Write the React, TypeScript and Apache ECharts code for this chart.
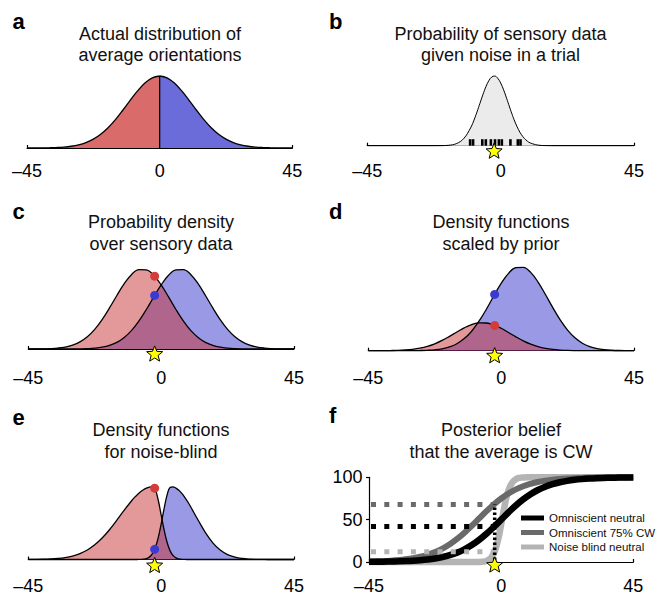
import React, { useEffect, useRef } from "react";
import * as echarts from "echarts";

// ---------- data ----------
const X_COARSE = [-45, -42.5, -40, -37.5, -35, -32.5, -30, -27.5, -25, -22.5, -20, -17.5, -15, -12.5, -10, -7.5, -5, -2.5, 0, 2.5, 5, 7.5, 10, 12.5, 15, 17.5, 20, 22.5, 25, 27.5, 30, 32.5, 35, 37.5, 40, 42.5, 45];
const X_FINE = [-45, -42.5, -40, -37.5, -35, -32.5, -30, -27.5, -25, -22.5, -20, -17.5, -15, -12.5, -10, -9, -8, -7, -6, -5, -4, -3, -2, -1, 0, 1, 2, 3, 4, 5, 6, 7, 8, 9, 10, 12.5, 15, 17.5, 20, 22.5, 25, 27.5, 30, 32.5, 35, 37.5, 40, 42.5, 45];

// a: actual distribution of average orientations (on X_COARSE)
const A_PRIOR = [0.02, 0.06, 0.13, 0.3, 0.63, 1.27, 2.43, 4.39, 7.56, 12.35, 19.15, 28.21, 39.46, 52.43, 66.15, 79.26, 90.19, 97.45, 100, 97.45, 90.19, 79.26, 66.15, 52.43, 39.46, 28.21, 19.15, 12.35, 7.56, 4.39, 2.43, 1.27, 0.63, 0.3, 0.13, 0.06, 0.02];

// b: probability of sensory data given noise (on X_FINE)
const B_NOISE = [0, 0, 0, 0, 0, 0, 0, 0, 0, 0.01, 0.1, 0.62, 2.86, 10.0, 26.7, 36.7, 48.2, 60.7, 73.1, 84.4, 93.2, 98.6, 99.9, 96.9, 90.0, 80.1, 68.2, 55.6, 43.4, 32.5, 23.2, 15.9, 10.5, 6.57, 3.96, 0.92, 0.16, 0.02, 0, 0, 0, 0, 0, 0, 0, 0, 0, 0, 0];
const B_SAMPLES = [-10.3, -9.3, -6.2, -5.0, -3.3, -1.9, -0.6, 0.4, 3.3, 5.8, 6.7];

// c: probability density over sensory data (on X_COARSE)
const C_RED = [0.03, 0.09, 0.22, 0.53, 1.18, 2.48, 4.87, 8.93, 15.3, 24.5, 36.7, 51.3, 66.9, 81.7, 93.2, 99.3, 98.9, 92.1, 80.1, 65.1, 49.4, 35.1, 23.2, 14.4, 8.34, 4.51, 2.28, 1.08, 0.48, 0.2, 0.08, 0.03, 0.01, 0, 0, 0, 0];
const C_BLUE = [0, 0, 0, 0, 0.01, 0.03, 0.08, 0.2, 0.48, 1.08, 2.28, 4.51, 8.34, 14.4, 23.2, 35.1, 49.4, 65.1, 80.1, 92.1, 98.9, 99.3, 93.2, 81.7, 66.9, 51.3, 36.7, 24.5, 15.3, 8.93, 4.87, 2.48, 1.18, 0.53, 0.22, 0.09, 0.03];

// d: density functions scaled by prior (on X_COARSE)
const D_RED = [0.01, 0.03, 0.07, 0.18, 0.39, 0.83, 1.62, 2.98, 5.1, 8.17, 12.23, 17.1, 22.3, 27.23, 31.07, 33.1, 32.97, 30.7, 26.7, 21.7, 16.47, 11.7, 7.73, 4.8, 2.78, 1.5, 0.76, 0.36, 0.16, 0.07, 0.03, 0.01, 0, 0, 0, 0, 0];
const D_BLUE = [0, 0, 0, 0, 0.01, 0.03, 0.08, 0.2, 0.48, 1.08, 2.28, 4.51, 8.34, 14.4, 23.2, 35.1, 49.4, 65.1, 80.1, 92.1, 98.9, 99.3, 93.2, 81.7, 66.9, 51.3, 36.7, 24.5, 15.3, 8.93, 4.87, 2.48, 1.18, 0.53, 0.22, 0.09, 0.03];

// e: density functions for noise-blind (on X_FINE)
const E_RED = [0.06, 0.15, 0.33, 0.69, 1.38, 2.61, 4.7, 8.04, 13.0, 20.1, 29.5, 40.9, 54.1, 67.8, 80.7, 85.3, 89.4, 93.0, 95.9, 98.0, 99.4, 99.98, 96.1, 81.7, 61.3, 40.6, 23.7, 12.2, 5.56, 2.23, 0.79, 0.25, 0.07, 0.02, 0, 0, 0, 0, 0, 0, 0, 0, 0, 0, 0, 0, 0, 0, 0];
const E_BLUE = [0, 0, 0, 0, 0, 0, 0, 0, 0, 0, 0, 0, 0, 0, 0, 0.01, 0.03, 0.12, 0.4, 1.22, 3.26, 7.73, 16.2, 29.8, 48.6, 69.8, 88.5, 99.0, 99.7, 98.1, 95.1, 90.8, 85.5, 79.3, 72.4, 54.2, 36.9, 22.9, 13.0, 6.71, 3.16, 1.35, 0.53, 0.19, 0.06, 0.02, 0, 0, 0];

// f: posterior belief that the average is CW (%)
const F_OMNI = [0.19, 0.27, 0.38, 0.54, 0.77, 1.08, 1.53, 2.15, 3.01, 4.21, 5.85, 8.09, 11.07, 14.98, 19.96, 26.08, 33.3, 41.4, 50, 58.6, 66.7, 73.9, 80.04, 85.02, 88.93, 91.91, 94.15, 95.79, 96.99, 97.85, 98.47, 98.92, 99.23, 99.46, 99.62, 99.73, 99.81];
const F_OMNI75 = [0.58, 0.81, 1.15, 1.61, 2.27, 3.18, 4.44, 6.17, 8.52, 11.65, 15.72, 20.88, 27.2, 34.58, 42.8, 51.4, 59.97, 67.96, 75, 80.9, 85.7, 89.5, 92.3, 94.5, 96.0, 97.15, 97.97, 98.56, 98.98, 99.28, 99.49, 99.64, 99.75, 99.82, 99.87, 99.91, 99.94];
const F_BLIND = [0, 0, 0, 0, 0, 0, 0, 0, 0, 0, 0, 0, 0, 0, 0, 0.01, 0.03, 0.13, 0.42, 1.23, 3.17, 7.18, 14.4, 26.7, 44.2, 63.2, 78.9, 89.0, 94.7, 97.8, 99.2, 99.7, 99.9, 99.97, 100, 100, 100, 100, 100, 100, 100, 100, 100, 100, 100, 100, 100, 100, 100];
const F_LEVELS = [68, 42, 12]; // omniscient 75% CW, omniscient neutral, noise blind neutral at the star
const F_NAMES = ["Omniscient neutral", "Omniscient 75% CW", "Noise blind neutral"];

// the trial's average orientation (star) and the density values read there (panels c, d, e)
const STAR_X = -2.2;
const DOT_RED = [91, 30, 98];
const DOT_BLUE = [67, 67, 14];

const X_LABELS = [-45, 0, 45];
const X_END_TICKS = [-45, 45];
const TITLES = [
  "Actual distribution of\naverage orientations",
  "Probability of sensory data\ngiven noise in a trial",
  "Probability density\nover sensory data",
  "Density functions\nscaled by prior",
  "Density functions\nfor noise-blind",
  "Posterior belief\nthat the average is CW",
];
const LETTERS = ["a", "b", "c", "d", "e", "f"];

// ---------- styling / layout ----------
const FONT = "'Liberation Sans', Arial, Helvetica, sans-serif";
const GRIDS = [
  { left: 27, top: 76, width: 265.3, height: 72 },
  { left: 367.3, top: 76, width: 266.7, height: 69.7 },
  { left: 28.3, top: 269, width: 265.7, height: 80 },
  { left: 368.3, top: 266.7, width: 265.7, height: 84 },
  { left: 28.3, top: 486.7, width: 265.7, height: 75.6 },
  { left: 369, top: 477.3, width: 264.3, height: 85 },
];
const LABEL_MARGINS = [14, 16, 19.5, 18, 17.5, 15];
const TITLE_POS = [
  { left: 160, top: 23 },
  { left: 500.5, top: 23 },
  { left: 161, top: 211.5 },
  { left: 501, top: 211.5 },
  { left: 161, top: 419.5 },
  { left: 501, top: 419.5 },
];
const LETTER_POS = [
  [12.5, 21.6],
  [329, 21.6],
  [12.5, 211.6],
  [329, 211.6],
  [12.5, 417.3],
  [329, 415.6],
];
const STAR_OFFSETS = [0, 5, 4.5, 4.5, 5.5, 2.5];
const STAR_PATH =
  "path://M50 0 L62.9 32.2 L97.6 34.5 L70.9 56.8 L79.4 90.5 L50 72 L20.6 90.5 L29.1 56.8 L2.4 34.5 L37.1 32.2 Z";

const RED_A = "#d96b6b";
const BLUE_A = "#6b6bd9";
const RED_T = "rgba(199,51,51,0.5)";
const BLUE_T = "rgba(51,51,204,0.5)";

const zip = (xs: number[], ys: number[]) => xs.map((x, i) => [x, ys[i]]);
const fmt = (v: number) => (v < 0 ? "\u2013" + Math.abs(v) : String(v));

function areaSeries(gi: number, data: number[][], fill: string, z = 2) {
  return {
    type: "line",
    xAxisIndex: gi,
    yAxisIndex: gi,
    data,
    smooth: 0.4,
    symbol: "none",
    clip: false,
    silent: true,
    z,
    lineStyle: { width: 0, opacity: 0 },
    areaStyle: { color: fill, opacity: 1 },
  };
}
function lineSeries(gi: number, data: number[][], color = "#000", width = 1.3, z = 4, extra: any = {}) {
  return {
    type: "line",
    xAxisIndex: gi,
    yAxisIndex: gi,
    data,
    smooth: 0.4,
    symbol: "none",
    clip: false,
    silent: true,
    z,
    lineStyle: { color, width },
    itemStyle: { color },
    ...extra,
  };
}
function dotSeries(gi: number, y: number, color: string) {
  return {
    type: "scatter",
    xAxisIndex: gi,
    yAxisIndex: gi,
    data: [[STAR_X, y]],
    symbolSize: 9,
    clip: false,
    silent: true,
    z: 6,
    itemStyle: { color, opacity: 1 },
  };
}
function starSeries(gi: number) {
  return {
    type: "scatter",
    xAxisIndex: gi,
    yAxisIndex: gi,
    data: [[STAR_X, 0]],
    symbol: STAR_PATH,
    symbolSize: 16,
    symbolKeepAspect: true,
    symbolOffset: [0, STAR_OFFSETS[gi]],
    clip: false,
    silent: true,
    z: 8,
    itemStyle: { color: "#ffff00", borderColor: "#000", borderWidth: 1, opacity: 1 },
  };
}
function dottedSeries(data: number[][], color: string, width: number, dash: number[], z = 5) {
  return {
    type: "line",
    xAxisIndex: 5,
    yAxisIndex: 5,
    data,
    smooth: false,
    symbol: "none",
    clip: false,
    silent: true,
    z,
    lineStyle: { color, width, type: dash, dashOffset: -2, cap: "butt" },
  };
}

function buildOption() {
  const xAxes = GRIDS.map((_, gi) => ({
    type: "value",
    gridIndex: gi,
    min: -45,
    max: 45,
    interval: 45,
    axisLine: { show: true, onZero: false, lineStyle: { color: "#000", width: 1.2 } },
    axisTick: { show: true, inside: true, length: 3, customValues: X_END_TICKS, lineStyle: { color: "#000", width: 1.2 } },
    axisLabel: {
      show: true,
      margin: LABEL_MARGINS[gi],
      fontSize: 18,
      color: "#000",
      fontFamily: FONT,
      formatter: fmt,
      customValues: X_LABELS,
    },
    splitLine: { show: false },
  }));
  const yAxes: any[] = GRIDS.map((_, gi) => ({ type: "value", gridIndex: gi, min: 0, max: 100, show: false }));
  yAxes[5] = {
    type: "value",
    gridIndex: 5,
    min: 0,
    max: 100,
    interval: 50,
    axisLine: { show: true, onZero: false, lineStyle: { color: "#000", width: 1.2 } },
    axisTick: { show: true, length: 3, lineStyle: { color: "#000", width: 1.2 } },
    axisLabel: { margin: 6.5, fontSize: 18, color: "#000", fontFamily: FONT },
    splitLine: { show: false },
  };

  const aData = zip(X_COARSE, A_PRIOR);
  const aRed = aData.filter((p) => p[0] <= 0);
  const aBlue = aData.filter((p) => p[0] >= 0);
  const aPeak = A_PRIOR[X_COARSE.indexOf(0)];

  const series: any[] = [
    // a
    areaSeries(0, aRed, RED_A),
    areaSeries(0, aBlue, BLUE_A),
    lineSeries(0, aRed),
    lineSeries(0, aBlue),
    { ...lineSeries(0, [[0, 0], [0, aPeak]]), smooth: false },
    // b
    areaSeries(1, zip(X_FINE, B_NOISE), "#ebebeb"),
    lineSeries(1, zip(X_FINE, B_NOISE), "#000", 1),
    {
      type: "scatter",
      xAxisIndex: 1,
      yAxisIndex: 1,
      data: B_SAMPLES.map((x) => [x, 0]),
      symbol: "rect",
      symbolSize: [2.6, 6.5],
      symbolOffset: [0, -3.25],
      clip: false,
      silent: true,
      z: 5,
      itemStyle: { color: "#000", opacity: 1 },
    },
    starSeries(1),
    // c
    areaSeries(2, zip(X_COARSE, C_BLUE), BLUE_T),
    areaSeries(2, zip(X_COARSE, C_RED), RED_T, 3),
    lineSeries(2, zip(X_COARSE, C_BLUE)),
    lineSeries(2, zip(X_COARSE, C_RED)),
    dotSeries(2, DOT_RED[0], "#d43c3c"),
    dotSeries(2, DOT_BLUE[0], "#3a3ad0"),
    starSeries(2),
    // d
    areaSeries(3, zip(X_COARSE, D_BLUE), BLUE_T),
    areaSeries(3, zip(X_COARSE, D_RED), RED_T, 3),
    lineSeries(3, zip(X_COARSE, D_BLUE)),
    lineSeries(3, zip(X_COARSE, D_RED)),
    dotSeries(3, DOT_RED[1], "#d43c3c"),
    dotSeries(3, DOT_BLUE[1], "#3a3ad0"),
    starSeries(3),
    // e
    areaSeries(4, zip(X_FINE, E_BLUE), BLUE_T),
    areaSeries(4, zip(X_FINE, E_RED), RED_T, 3),
    lineSeries(4, zip(X_FINE, E_BLUE)),
    lineSeries(4, zip(X_FINE, E_RED)),
    dotSeries(4, DOT_RED[2], "#d43c3c"),
    dotSeries(4, DOT_BLUE[2], "#3a3ad0"),
    starSeries(4),
    // f
    lineSeries(5, zip(X_FINE, F_BLIND), "#b4b4b4", 6.5, 3, { name: F_NAMES[2] }),
    lineSeries(5, zip(X_COARSE, F_OMNI75), "#6a6a6a", 6, 3, { name: F_NAMES[1] }),
    lineSeries(5, zip(X_COARSE, F_OMNI), "#000", 6.5, 3, { name: F_NAMES[0] }),
    dottedSeries([[-45, F_LEVELS[0]], [STAR_X, F_LEVELS[0]]], "#6a6a6a", 5, [5, 8.3]),
    dottedSeries([[-45, F_LEVELS[1]], [STAR_X, F_LEVELS[1]]], "#000", 5, [5, 8.3]),
    dottedSeries([[-45, F_LEVELS[2]], [STAR_X, F_LEVELS[2]]], "#b4b4b4", 5, [5, 8.3]),
    dottedSeries([[STAR_X, 0], [STAR_X, F_LEVELS[0]]], "#000", 3.5, [2.6, 2.4], 6),
    starSeries(5),
  ];

  return {
    animation: false,
    backgroundColor: "#ffffff",
    grid: GRIDS.map((g) => ({ ...g, containLabel: false })),
    xAxis: xAxes,
    yAxis: yAxes,
    title: TITLES.map((t, i) => ({
      text: t,
      left: TITLE_POS[i].left,
      top: TITLE_POS[i].top,
      textAlign: "center",
      padding: 0,
      textStyle: { fontSize: 18, fontWeight: "normal", color: "#111", fontFamily: FONT, lineHeight: 21.5 },
    })),
    legend: {
      data: F_NAMES,
      orient: "vertical",
      left: 521,
      top: 512,
      padding: 0,
      itemWidth: 23,
      itemHeight: 5,
      itemGap: 2.5,
      icon: "rect",
      selectedMode: false,
      textStyle: { fontSize: 11.5, color: "#111", fontFamily: FONT },
    },
    graphic: LETTERS.map((l, i) => ({
      type: "text",
      x: LETTER_POS[i][0],
      y: LETTER_POS[i][1],
      silent: true,
      style: {
        text: l,
        fill: "#000",
        font: `bold 22px ${FONT}`,
        textVerticalAlign: "middle",
      },
    })),
    series,
  };
}

export default function App() {
  const ref = useRef<HTMLDivElement>(null);
  useEffect(() => {
    if (!ref.current) return;
    const chart = echarts.init(ref.current, null, { renderer: "svg" });
    chart.setOption(buildOption() as any);
    return () => chart.dispose();
  }, []);
  return (
    <div
      ref={ref}
      style={{ position: "absolute", left: 0, top: 0, width: 659, height: 595, background: "#fff" }}
    />
  );
}
